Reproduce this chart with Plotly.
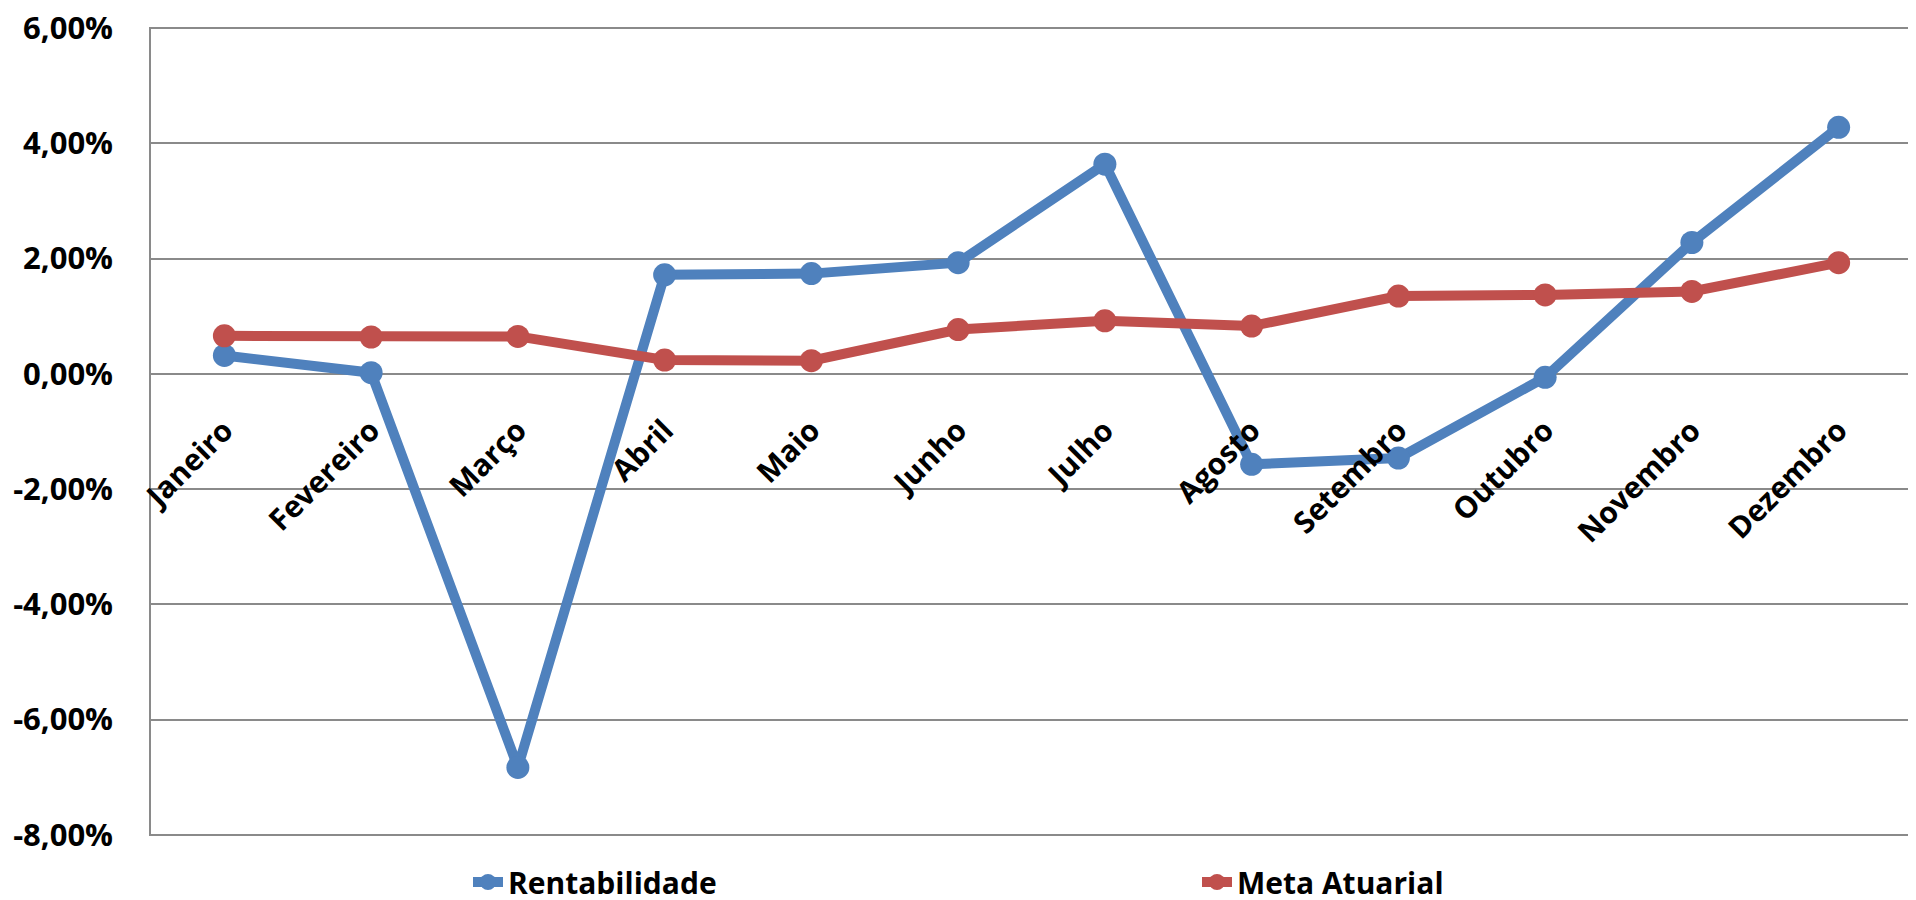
import plotly.graph_objects as go

months = ["Janeiro", "Fevereiro", "Março", "Abril", "Maio", "Junho",
          "Julho", "Agosto", "Setembro", "Outubro", "Novembro", "Dezembro"]
rentabilidade = [0.32, 0.02, -6.83, 1.72, 1.74, 1.93, 3.64, -1.57, -1.46, -0.06, 2.28, 4.28]
meta_atuarial = [0.66, 0.64, 0.65, 0.24, 0.23, 0.77, 0.92, 0.83, 1.35, 1.37, 1.43, 1.93]
y_tick_vals = [-8, -6, -4, -2, 0, 2, 4, 6]
y_tick_text = ["-8,00%", "-6,00%", "-4,00%", "-2,00%", "0,00%", "2,00%", "4,00%", "6,00%"]

BLUE = "#4F81BD"
RED = "#C0504D"
FONT = "Open Sans"

# the page body keeps its default 8px margin, so the figure is 8px smaller
W, H = 1908, 892
Y_MIN, Y_MAX = -8.02, 6.02

fig = go.Figure()
fig.add_trace(go.Scatter(
    x=months, y=rentabilidade, name="Rentabilidade", mode="lines+markers",
    line=dict(color=BLUE, width=10), marker=dict(color=BLUE, size=23),
))
fig.add_trace(go.Scatter(
    x=months, y=meta_atuarial, name="Meta Atuarial", mode="lines+markers",
    line=dict(color=RED, width=10), marker=dict(color=RED, size=23),
))

fig.update_layout(
    width=W, height=H,
    margin=dict(l=143, r=4, t=19, b=64, autoexpand=False),
    paper_bgcolor="white", plot_bgcolor="white",
    font=dict(family=FONT, color="black"),
    showlegend=True,
    legend=dict(
        orientation="h", x=0.180, y=1 - 874 / H, xanchor="left", yanchor="middle",
        yref="container",
        font=dict(family=FONT, size=30, weight="bold", color="black"),
        entrywidth=684, entrywidthmode="pixels",
        bgcolor="rgba(0,0,0,0)",
    ),
    xaxis=dict(
        type="category", categoryorder="array", categoryarray=months,
        range=[-0.5, 11.5],
        anchor="free", position=(0 - Y_MIN) / (Y_MAX - Y_MIN), automargin=False,
        showgrid=False, showline=False, zeroline=False, ticks="",
        tickangle=-45,
        tickfont=dict(family=FONT, size=30, weight="bold", color="black"),
        ticklabelstandoff=32,
    ),
    yaxis=dict(
        range=[Y_MIN, Y_MAX], tickvals=y_tick_vals, ticktext=y_tick_text,
        automargin=False, ticklabeloverflow="allow",
        showgrid=True, gridcolor="#8a8a8a", gridwidth=1.5,
        zeroline=False, showline=True, linecolor="#8a8a8a", linewidth=1.5,
        ticks="", ticklabelstandoff=30,
        tickfont=dict(family=FONT, size=31, weight="bold", color="black"),
    ),
)

fig.write_html("out.html")
